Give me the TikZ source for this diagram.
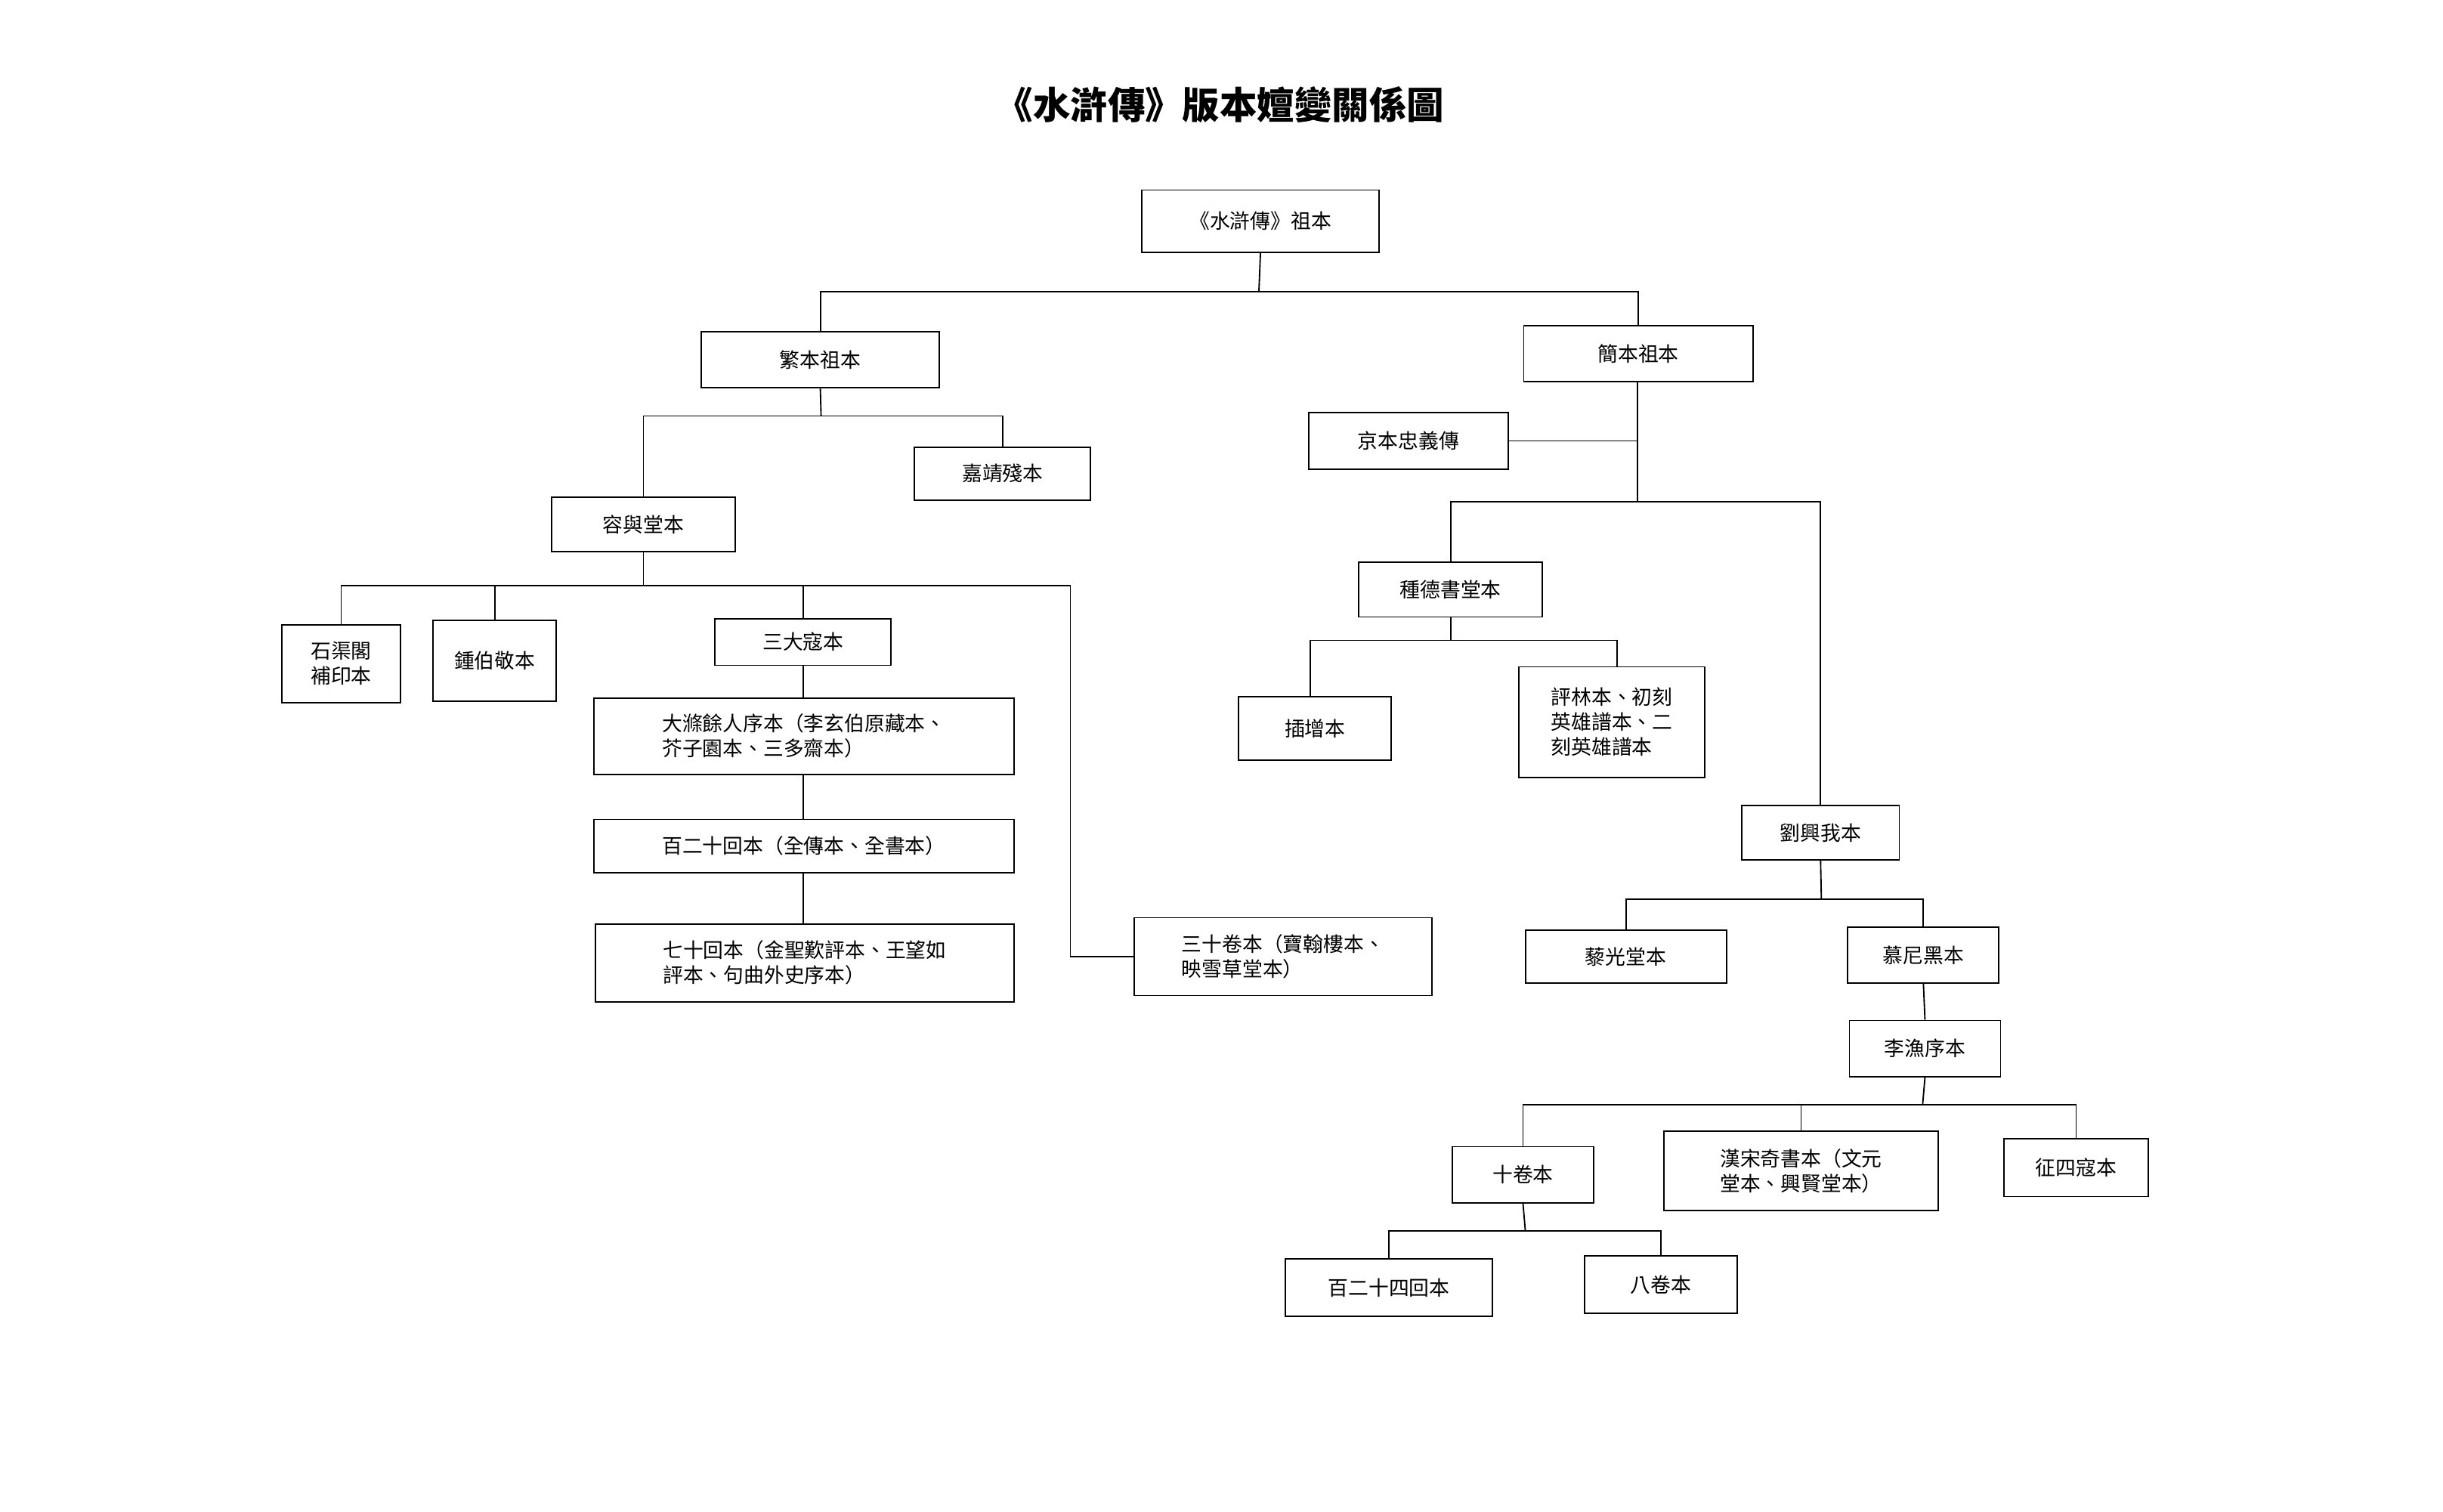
\documentclass[tikz,border=0pt]{standalone}
\usepackage{fontspec}
\setmainfont{Noto Sans CJK TC}
\begin{document}
\begin{tikzpicture}[x=1pt,y=-1pt,
  bx/.style={draw,line width=0.9pt,inner sep=0pt,align=left,font=\fontsize{13}{16}\selectfont},
  ln/.style={line width=0.9pt}]
\useasboundingbox (0,0) rectangle (1568,970);
\newcommand{\bxn}[6]{\node[bx,minimum width={#4-#2},minimum height={#5-#3}] (#1) at ({(#2+#4)/2},{(#3+#5)/2}) {#6};}
\node[font=\bfseries\fontsize{24}{28}\selectfont] (title) at (783,67) {《水滸傳》版本嬗變關係圖};
\bxn{root}{733}{122}{885}{162}{《水滸傳》祖本}
\bxn{fan}{450}{213}{603}{249}{繁本祖本}
\bxn{jian}{978}{209}{1125}{245}{簡本祖本}
\bxn{jiajing}{587}{287}{700}{321}{嘉靖殘本}
\bxn{rongyu}{354}{319}{472}{354}{容與堂本}
\bxn{shiqu}{181}{401}{257}{451}{石渠閣\\補印本}
\bxn{zhongbo}{278}{398}{357}{450}{鍾伯敬本}
\bxn{sanda}{459}{397}{572}{427}{三大寇本}
\bxn{dadi}{381}{448}{651}{497}{大滌餘人序本（李玄伯原藏本、\\芥子園本、三多齋本）}
\bxn{bai}{381}{526}{651}{560}{百二十回本（全傳本、全書本）}
\bxn{qishi}{382}{593}{651}{643}{七十回本（金聖歎評本、王望如\\評本、句曲外史序本）}
\bxn{sanshi}{728}{589}{919}{639}{三十卷本（寶翰樓本、\\映雪草堂本）}
\bxn{jing}{840}{265}{968}{301}{京本忠義傳}
\bxn{zhongde}{872}{361}{990}{396}{種德書堂本}
\bxn{chazeng}{795}{447}{893}{488}{插增本}
\bxn{pinglin}{975}{428}{1094}{499}{評林本、初刻\\英雄譜本、二\\刻英雄譜本}
\bxn{liu}{1118}{517}{1219}{552}{劉興我本}
\bxn{liguang}{979}{597}{1108}{631}{藜光堂本}
\bxn{muni}{1186}{595}{1283}{631}{慕尼黑本}
\bxn{liyu}{1187}{655}{1284}{691}{李漁序本}
\bxn{shijuan}{932}{736}{1023}{772}{十卷本}
\bxn{hansong}{1068}{726}{1244}{777}{漢宋奇書本（文元\\堂本、興賢堂本）}
\bxn{zhengsi}{1286}{731}{1379}{768}{征四寇本}
\bxn{bai24}{825}{808}{958}{845}{百二十四回本}
\bxn{ba}{1017}{806}{1115}{843}{八卷本}
\coordinate (b1) at (808,187);
\coordinate (b2) at (527,267);
\coordinate (b3) at (413,376);
\coordinate (b4) at (1051,322);
\coordinate (b5) at (931,411);
\coordinate (b6) at (1169,577);
\coordinate (b7) at (1234,709);
\coordinate (b8) at (979,790);
\coordinate (sx) at (687,376);
\draw[ln] (root.south) -- (b1);
\draw[ln] (fan.north) -- (fan.north|-b1) -- (jian.north|-b1) -- (jian.north);
\draw[ln] (fan.south) -- (b2);
\draw[ln] (rongyu.north) -- (rongyu.north|-b2) -- (jiajing.north|-b2) -- (jiajing.north);
\draw[ln] (rongyu.south) -- (b3);
\draw[ln] (shiqu.north) -- (shiqu.north|-b3) -- (sx) |- (sanshi.west);
\draw[ln] (zhongbo.north) -- (zhongbo.north|-b3);
\draw[ln] (sanda.north) -- (sanda.north|-b3);
\draw[ln] (sanda.south) -- (dadi.north-|sanda.south);
\draw[ln] (dadi.south-|sanda.south) -- (bai.north-|sanda.south);
\draw[ln] (bai.south-|sanda.south) -- (qishi.north-|sanda.south);
\draw[ln] (jian.south-|b4) -- (b4);
\draw[ln] (jing.east) -- (jing.east-|b4);
\draw[ln] (zhongde.north) -- (zhongde.north|-b4) -- (liu.north|-b4) -- (liu.north);
\draw[ln] (zhongde.south) -- (b5);
\draw[ln] (chazeng.north-|841,0) -- (841,411) -- (1038,411) -- (pinglin.north-|1038,0);
\draw[ln] (liu.south) -- (b6);
\draw[ln] (liguang.north) -- (liguang.north|-b6) -- (muni.north|-b6) -- (muni.north);
\draw[ln] (muni.south) -- (liyu.north);
\draw[ln] (liyu.south) -- (b7);
\draw[ln] (shijuan.north) -- (shijuan.north|-b7) -- (zhengsi.north|-b7) -- (zhengsi.north);
\draw[ln] (hansong.north) -- (hansong.north|-b7);
\draw[ln] (shijuan.south) -- (b8);
\draw[ln] (bai24.north) -- (bai24.north|-b8) -- (ba.north|-b8) -- (ba.north);
\end{tikzpicture}
\end{document}
